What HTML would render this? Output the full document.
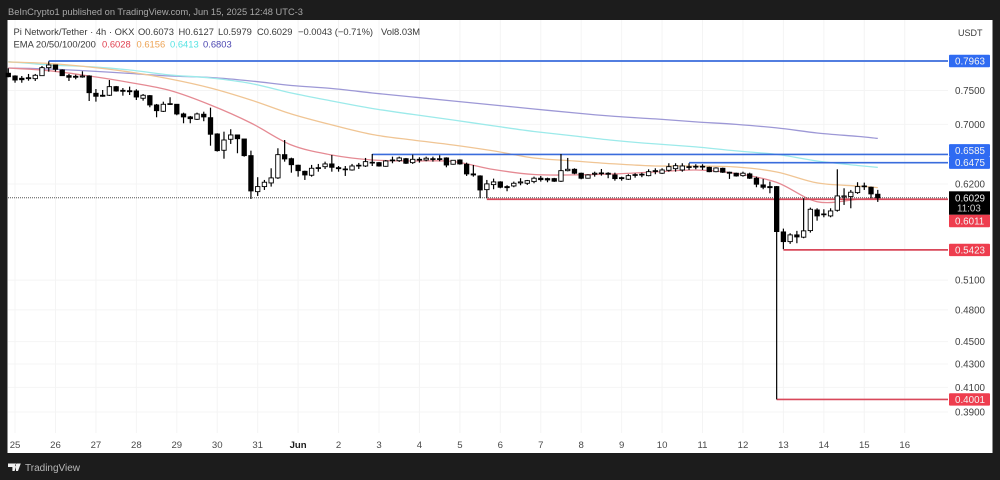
<!DOCTYPE html>
<html lang="en">
<head>
<meta charset="utf-8">
<title>Pi Network/Tether 4h chart</title>
<style>
html,body{margin:0;padding:0;background:#1c1c1c;width:1000px;height:480px;overflow:hidden}
svg{display:block;filter:blur(0.3px)}
text{font-family:"Liberation Sans",sans-serif}
</style>
</head>
<body>
<svg id="chart" xmlns="http://www.w3.org/2000/svg" width="1000" height="480" viewBox="0 0 1000 480">
  <rect x="0" y="0" width="1000" height="480" fill="#1c1c1c"/>
  <text x="8" y="15" font-size="9.3" fill="#a8a8a8">BeInCrypto1 published on TradingView.com, Jun 15, 2025 12:48 UTC-3</text>
  <rect x="7.5" y="20" width="985" height="433" fill="#ffffff"/>
  <g id="grid"></g>
  <g id="ema"></g>
  <g id="levels"></g>
  <g id="candles"></g>
  <g id="xaxis"></g>
  <g id="yaxis"></g>
  <g font-size="9.4" fill="#3a3a3a">
    <text x="13.5" y="35">Pi Network/Tether · 4h · OKX</text>
    <text x="138" y="35">O0.6073</text>
    <text x="178.5" y="35">H0.6127</text>
    <text x="218" y="35">L0.5979</text>
    <text x="257" y="35">C0.6029</text>
    <text x="298" y="35">−0.0043 (−0.71%)</text>
    <text x="381" y="35">Vol8.03M</text>
    <text x="13.5" y="47.5">EMA 20/50/100/200</text>
    <text x="102" y="47.5" fill="#e0404f">0.6028</text>
    <text x="136.5" y="47.5" fill="#eda354">0.6156</text>
    <text x="170" y="47.5" fill="#55e3e3">0.6413</text>
    <text x="203" y="47.5" fill="#4a45b0">0.6803</text>
  </g>
  <text x="958" y="36" font-size="9" fill="#3a3a3a">USDT</text>
  <g>
    <path fill="#f0f0f0" d="M8 463.500h8v7.500h-3.600V467H8zM17 463.500a1.700 1.700 0 1 0 0.010 0zM18 471l2.800-7.500h-3.600l-2.600 7.500z"/>
    <text x="25" y="471" font-size="10" fill="#b8b8b8">TradingView</text>
  </g>
</svg>
<script>
const opens = [.7767,.7724,.7688,.7682,.7682,.7729,.7856,.7899,.7819,.7729,.7719,.7708,.7724,.7457,.7427,.7427,.7558,.7502,.7496,.7492,.7382,.7421,.7282,.7189,.7292,.7292,.7150,.7107,.7073,.7146,.7096,.6865,.6641,.6791,.6851,.6795,.6569,.6105,.6168,.6214,.6278,.6582,.6528,.6442,.6363,.6312,.6402,.6423,.6459,.6410,.6393,.6380,.6432,.6432,.6472,.6476,.6428,.6502,.6502,.6528,.6476,.6520,.6511,.6528,.6520,.6538,.6455,.6511,.6455,.6329,.6303,.6130,.6193,.6227,.6168,.6176,.6214,.6210,.6231,.6274,.6269,.6269,.6236,.6371,.6389,.6338,.6274,.6325,.6333,.6338,.6316,.6281,.6261,.6312,.6316,.6307,.6363,.6338,.6376,.6397,.6380,.6423,.6419,.6428,.6415,.6358,.6402,.6351,.6338,.6307,.6329,.6274,.6189,.6168,.6168,.5625,.5515,.5591,.5565,.5640,.5882,.5834,.5811,.5878,.6039,.6044,.6093,.6168,.6160,.6073];
const highs = [.7846,.7735,.7724,.7756,.7756,.7883,.7958,.7905,.7830,.7756,.7745,.7798,.7735,.7522,.7507,.7661,.7569,.7537,.7558,.7518,.7446,.7431,.7297,.7331,.7397,.7292,.7169,.7121,.7169,.7183,.7242,.6875,.6897,.6931,.6851,.6795,.6636,.6287,.6252,.6402,.6668,.6781,.6542,.6449,.6371,.6446,.6459,.6489,.6578,.6432,.6432,.6459,.6472,.6538,.6591,.6485,.6511,.6555,.6555,.6538,.6582,.6547,.6555,.6555,.6574,.6547,.6511,.6520,.6476,.6445,.6312,.6252,.6269,.6236,.6185,.6231,.6274,.6252,.6294,.6303,.6281,.6278,.6591,.6538,.6402,.6345,.6325,.6358,.6393,.6351,.6345,.6294,.6325,.6338,.6345,.6389,.6402,.6402,.6468,.6468,.6468,.6468,.6455,.6455,.6423,.6415,.6410,.6358,.6345,.6358,.6345,.6294,.6265,.6231,.6176,.5663,.5610,.5637,.6024,.5910,.5902,.5890,.5902,.6389,.6147,.6126,.6223,.6218,.6168,.6127];
const lows = [.7704,.7619,.7619,.7650,.7646,.7724,.7792,.7792,.7724,.7646,.7672,.7697,.7341,.7331,.7405,.7416,.7481,.7421,.7431,.7356,.7346,.7248,.7102,.7179,.7282,.7131,.7016,.7016,.7063,.7045,.6703,.6623,.6528,.6727,.6601,.6555,.6015,.6052,.6126,.6168,.6265,.6489,.6345,.6294,.6252,.6294,.6358,.6393,.6358,.6358,.6303,.6371,.6393,.6419,.6432,.6423,.6423,.6468,.6485,.6459,.6459,.6476,.6494,.6489,.6494,.6415,.6449,.6449,.6303,.6294,.6024,.6024,.6135,.6147,.6110,.6160,.6185,.6189,.6210,.6231,.6223,.6227,.6227,.6363,.6325,.6261,.6269,.6294,.6307,.6274,.6243,.6243,.6252,.6281,.6287,.6299,.6325,.6329,.6358,.6358,.6358,.6380,.6389,.6380,.6351,.6351,.6342,.6265,.6294,.6294,.6265,.6160,.6135,.6085,.4001,.5431,.5490,.5497,.5553,.5617,.5755,.5795,.5795,.5862,.5942,.5902,.6077,.6126,.6024,.5979];
const closes = [.7713,.7661,.7666,.7697,.7735,.7856,.7899,.7830,.7729,.7704,.7704,.7724,.7466,.7412,.7412,.7558,.7492,.7487,.7481,.7401,.7427,.7282,.7198,.7292,.7301,.7150,.7107,.7082,.7150,.7107,.6861,.6636,.6781,.6851,.6799,.6569,.6114,.6168,.6223,.6278,.6582,.6525,.6449,.6371,.6316,.6402,.6410,.6459,.6415,.6397,.6384,.6432,.6442,.6489,.6481,.6432,.6498,.6511,.6538,.6468,.6520,.6511,.6534,.6520,.6528,.6445,.6507,.6459,.6329,.6316,.6126,.6202,.6227,.6160,.6155,.6210,.6227,.6243,.6274,.6256,.6252,.6236,.6371,.6389,.6338,.6274,.6316,.6338,.6342,.6325,.6269,.6269,.6307,.6320,.6325,.6358,.6371,.6380,.6423,.6436,.6432,.6415,.6428,.6419,.6358,.6406,.6351,.6338,.6303,.6338,.6274,.6198,.6160,.6155,.5629,.5515,.5591,.5568,.5637,.5890,.5811,.5826,.5870,.6052,.6052,.6098,.6168,.6176,.6077,.6029];

const emaStep = 6;
const ema20 = [.7851,.7808,.7724,.7623,.7499,.7282,.7020,.6713,.6578,.6511,.6498,.6491,.6386,.6322,.6316,.6329,.6354,.6380,.6335,.6221,.5982,.6009,.6028];
const ema50 = [.7947,.7923,.7867,.7787,.7677,.7538,.7356,.7150,.6992,.6858,.6781,.6713,.6632,.6538,.6498,.6459,.6432,.6432,.6419,.6354,.6214,.6176,.6156];
const ema100 = [.7952,.7899,.7872,.7819,.7740,.7693,.7607,.7462,.7341,.7230,.7143,.7063,.6978,.6900,.6837,.6774,.6727,.6686,.6632,.6585,.6498,.6439,.6413];
const ema200 = [.7851,.7835,.7803,.7764,.7724,.7701,.7646,.7576,.7530,.7462,.7401,.7341,.7282,.7223,.7165,.7114,.7078,.7035,.7000,.6950,.6879,.6831,.6803];

const priceTicks = [.75,.70,.62,.51,.48,.45,.43,.41,.39];
const dayLabels = ['25','26','27','28','29','30','31','Jun','2','3','4','5','6','7','8','9','10','11','12','13','14','15','16'];

const resistancePrices = [.7963,.6585,.6475];
const resistanceStarts = [6,54,101];
const supportPrices = [.6011,.5423,.4001];
const supportStarts = [71,115,114];
const lastPrice = .6029;
const countdown = '11:03';

const NS = 'http://www.w3.org/2000/svg';
const X0 = 8.3, STEP = 6.74, Y0 = 61, REF = .7963, SCALE = 491.7;
const AXIS_X = 948;
function xOf(i){return X0 + STEP * i;}
function yOf(p){return Y0 + SCALE * Math.log(REF / p);}
function make(tag, attrs, parent, txt){
  const el = document.createElementNS(NS, tag);
  for (const k in attrs) el.setAttribute(k, attrs[k]);
  if (txt !== undefined) el.textContent = txt;
  parent.appendChild(el);
  return el;
}
const gridG = document.getElementById('grid');
const emaG = document.getElementById('ema');
const levelG = document.getElementById('levels');
const candleG = document.getElementById('candles');
const xG = document.getElementById('xaxis');
const yG = document.getElementById('yaxis');

dayLabels.forEach(function(label, d){
  const x = xOf(1 + d * emaStep);
  const line = make('line', {x1:x, x2:x, y1:20, y2:433, stroke:'#f4f4f4', 'stroke-width':1}, gridG);
  
  
  const isMonth = label === 'Jun';
  const t = make('text', {x:x, y:448, 'font-size':9.6, 'text-anchor':'middle', fill:isMonth ? '#1c1c1c' : '#4a4a4a', 'font-weight':isMonth ? 'bold' : 'normal'}, xG, label);
  
  
});

priceTicks.forEach(function(p){
  const y = yOf(p);
  const line = make('line', {x1:8, x2:AXIS_X, y1:y, y2:y, stroke:'#f4f4f4', 'stroke-width':1}, gridG);
  
  
  const t = make('text', {x:955, y:y + 3.5, 'font-size':9.8, fill:'#3f3f3f'}, yG, p.toFixed(4));
  
  
});

function drawEma(values, color, name){
  const n = values.length;
  const pts = values.map(function(v, k){
    const idx = k === n - 1 ? opens.length - 1 : k * emaStep;
    return [xOf(idx), yOf(v)];
  });
  let d = 'M' + pts[0][0].toFixed(1) + ' ' + pts[0][1].toFixed(1);
  for (let k = 0; k < n - 1; k++) {
    const p0 = pts[Math.max(k - 1, 0)], p1 = pts[k], p2 = pts[k + 1], p3 = pts[Math.min(k + 2, n - 1)];
    const c1x = p1[0] + (p2[0] - p0[0]) / 6, c1y = p1[1] + (p2[1] - p0[1]) / 6;
    const c2x = p2[0] - (p3[0] - p1[0]) / 6, c2y = p2[1] - (p3[1] - p1[1]) / 6;
    d += 'C' + c1x.toFixed(1) + ' ' + c1y.toFixed(1) + ' ' + c2x.toFixed(1) + ' ' + c2y.toFixed(1) + ' ' + p2[0].toFixed(1) + ' ' + p2[1].toFixed(1);
  }
  const line = make('path', {d:d, fill:'none', stroke:color, 'stroke-width':1.3, 'stroke-linejoin':'round'}, emaG);
  
  
}
drawEma(ema200, '#9d98d6', 'ema-200-line');
drawEma(ema100, '#9ceaea', 'ema-100-line');
drawEma(ema50, '#f0c594', 'ema-50-line');
drawEma(ema20, '#e58a93', 'ema-20-line');

resistancePrices.forEach(function(p, k){
  const y = yOf(p);
  const line = make('line', {x1:xOf(resistanceStarts[k]), x2:AXIS_X, y1:y, y2:y, stroke:'#3a6cdc', 'stroke-width':1.7}, levelG);
  
  
});
supportPrices.forEach(function(p, k){
  const y = yOf(p);
  const line = make('line', {x1:xOf(supportStarts[k]), x2:AXIS_X, y1:y, y2:y, stroke:'#d9485a', 'stroke-width':1.7}, levelG);
  
  
});

const lastLine = make('line', {x1:8, x2:AXIS_X, y1:yOf(lastPrice), y2:yOf(lastPrice), stroke:'#555', 'stroke-width':1, 'stroke-dasharray':'1 1'}, levelG);



opens.forEach(function(o, i){
  const c = closes[i], x = xOf(i);
  const wick = make('line', {x1:x, x2:x, y1:yOf(highs[i]), y2:yOf(lows[i]), stroke:'#000000', 'stroke-width':1.2}, candleG);
  
  
  const top = yOf(Math.max(o, c)), bottom = yOf(Math.min(o, c));
  const body = make('rect', {x:x - 2.2, y:top, width:4.4, height:Math.max(bottom - top, 0.8), fill:c >= o ? '#ffffff' : '#000000', stroke:'#000', 'stroke-width':0.9}, candleG);
  
  
});

function priceBox(p, centerY, fill, name){
  const r = make('rect', {x:949, y:centerY - 6.2, width:41, height:12.4, rx:1, fill:fill}, yG);
  
  
  const t = make('text', {x:955, y:centerY + 3.5, 'font-size':9.8, fill:'#f4f4f4'}, yG, p.toFixed(4));
  
  
}
const lowerBlue = yOf(resistancePrices[2]);
priceBox(resistancePrices[0], yOf(resistancePrices[0]), '#2f6bf2', 'resistance-label');
priceBox(resistancePrices[1], Math.min(yOf(resistancePrices[1]), lowerBlue - 12.4), '#2f6bf2', 'resistance-label');
priceBox(resistancePrices[2], lowerBlue, '#2f6bf2', 'resistance-label');

const lastY = yOf(lastPrice);
const lastBox = make('rect', {x:949, y:lastY - 6.5, width:41, height:23.5, fill:'#000000'}, yG);


const lastText = make('text', {x:955, y:lastY + 3.5, 'font-size':9.8, fill:'#f2f2f2'}, yG, lastPrice.toFixed(4));


const countText = make('text', {x:957, y:lastY + 13.5, 'font-size':9.8, fill:'#cfcfcf'}, yG, countdown);



priceBox(supportPrices[0], lastY + 23.2, '#ee3d4e', 'support-label');
priceBox(supportPrices[1], yOf(supportPrices[1]), '#ee3d4e', 'support-label');
priceBox(supportPrices[2], yOf(supportPrices[2]), '#ee3d4e', 'support-label');
</script>
</body>
</html>
